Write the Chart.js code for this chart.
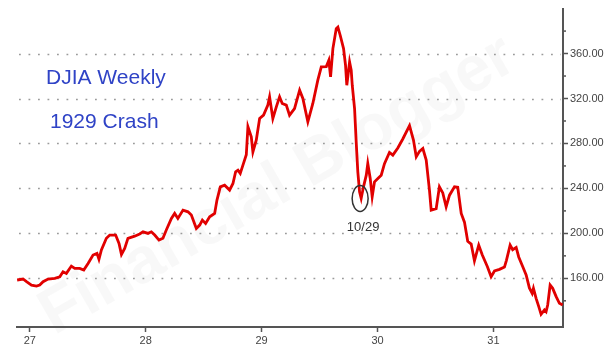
<!DOCTYPE html>
<html>
<head>
<meta charset="utf-8">
<script src="https://cdn.jsdelivr.net/npm/chart.js@4.4.1/dist/chart.umd.min.js"></script>
<style>
  html, body { margin: 0; padding: 0; background: #ffffff; }
  #wrap { width: 614px; height: 357px; position: relative; }
</style>
</head>
<body>
<div id="wrap"><canvas id="c" width="614" height="357"></canvas></div>
<script>
// ---- data ----
const xTicks = [27, 28, 29, 30, 31];
const yTicks = [160, 200, 240, 280, 320, 360];
const yMinorTicks = [140, 180, 220, 260, 300, 340, 380];

// time position in years (27 = start of 1927) and weekly DJIA close
const weekYear = [
  26.891, 26.942, 26.972, 27.015, 27.058, 27.086, 27.115, 27.158, 27.216, 27.259,
  27.287, 27.316, 27.359, 27.388, 27.431, 27.466, 27.503, 27.546, 27.580, 27.597,
  27.618, 27.661, 27.690, 27.741, 27.770, 27.791, 27.819, 27.847, 27.905, 27.948,
  27.977, 28.020, 28.049, 28.078, 28.115, 28.149, 28.178, 28.222, 28.250, 28.278,
  28.322, 28.365, 28.394, 28.437, 28.466, 28.489, 28.517, 28.552, 28.595, 28.615,
  28.644, 28.681, 28.724, 28.753, 28.776, 28.796, 28.816, 28.839, 28.868, 28.882,
  28.911, 28.925, 28.954, 28.983, 29.017, 29.054, 29.069, 29.097, 29.127, 29.155,
  29.178, 29.213, 29.241, 29.284, 29.328, 29.356, 29.399, 29.442, 29.485, 29.515,
  29.558, 29.580, 29.595, 29.615, 29.644, 29.658, 29.678, 29.707, 29.724, 29.735,
  29.759, 29.773, 29.782, 29.802, 29.816, 29.830, 29.845, 29.859, 29.879, 29.903,
  29.916, 29.937, 29.954, 29.974, 30.003, 30.032, 30.060, 30.103, 30.132, 30.175,
  30.218, 30.276, 30.310, 30.334, 30.362, 30.391, 30.420, 30.448, 30.463, 30.506,
  30.534, 30.563, 30.592, 30.621, 30.664, 30.692, 30.722, 30.750, 30.778, 30.808,
  30.836, 30.873, 30.903, 30.948, 30.980, 31.009, 31.052, 31.095, 31.112, 31.144,
  31.166, 31.196, 31.218, 31.253, 31.282, 31.310, 31.334, 31.345, 31.368, 31.391,
  31.411, 31.440, 31.454, 31.468, 31.489, 31.511, 31.541, 31.569, 31.597
];
const djia = [
  158.5, 159.4, 157.0, 154.0, 153.1, 154.0, 157.0, 159.4, 160.0, 161.4,
  165.9, 164.4, 170.9, 168.9, 168.9, 167.4, 173.3, 180.7, 182.2, 176.9,
  185.2, 195.6, 198.5, 198.5, 191.1, 181.3, 186.7, 195.6, 197.5, 199.5,
  201.4, 200.0, 201.4, 198.5, 194.0, 195.6, 203.0, 213.3, 217.8, 213.3,
  220.7, 219.2, 216.3, 204.4, 207.4, 211.8, 208.9, 214.8, 217.8, 229.6,
  241.4, 242.9, 238.5, 244.4, 254.8, 256.3, 253.3, 260.7, 270.0, 295.0,
  285.9, 272.5, 282.9, 302.2, 305.2, 314.1, 321.5, 302.2, 312.6, 321.5,
  315.6, 314.1, 305.2, 311.1, 327.4, 320.0, 299.2, 315.6, 336.3, 348.1,
  348.4, 354.0, 339.3, 364.4, 382.2, 383.6, 376.3, 364.4, 349.6, 331.8,
  352.5, 345.2, 331.8, 311.1, 281.4, 254.8, 237.0, 231.1, 241.4, 251.8,
  262.2, 248.9, 232.6, 245.9, 248.9, 251.8, 262.0, 272.0, 269.6, 276.0,
  284.0, 295.8, 283.0, 268.1, 273.0, 275.5, 265.2, 238.5, 220.7, 222.0,
  241.4, 236.0, 223.7, 234.0, 241.4, 241.0, 217.8, 210.0, 193.0, 190.5,
  175.5, 189.6, 181.0, 170.3, 161.4, 166.5, 168.0, 170.0, 176.0, 189.6,
  185.5, 187.5, 179.0, 170.3, 163.0, 151.5, 146.7, 151.1, 142.2, 134.8,
  128.0, 131.9, 130.4, 136.3, 154.0, 151.1, 143.7, 137.8, 136.3
];

const crashMark = { x: 29.85, y: 231, label: '10/29' };
const titleLines = ['DJIA Weekly', '1929 Crash'];
const watermark = 'Financial Blogger';

// ---- build ----
const points = weekYear.map((t, i) => ({ x: t, y: djia[i] }));

const decorPlugin = {
  id: 'decor',
  beforeDraw(chart) {
    const ctx = chart.ctx;
    ctx.save();
    ctx.fillStyle = '#ffffff';
    ctx.fillRect(0, 0, chart.width, chart.height);
    // faint watermark
    ctx.translate(278, 186);
    ctx.rotate(-30 * Math.PI / 180);
    ctx.font = 'bold 64px "Liberation Sans", Arial, sans-serif';
    ctx.textAlign = 'center';
    ctx.textBaseline = 'middle';
    ctx.fillStyle = 'rgba(215,215,215,0.18)';
    ctx.fillText(watermark, 0, 0);
    ctx.restore();
  },
  beforeDatasetsDraw(chart) {
    const ctx = chart.ctx;
    const ys = chart.scales.y;
    const a = chart.chartArea;
    ctx.save();
    // dotted gridlines
    ctx.strokeStyle = '#9a9a9a';
    ctx.lineWidth = 1.6;
    ctx.setLineDash([1.8, 7.7]);
    yTicks.forEach(v => {
      const y = Math.round(ys.getPixelForValue(v)) + 0.5;
      ctx.beginPath();
      ctx.moveTo(a.left + 2, y);
      ctx.lineTo(a.right - 2, y);
      ctx.stroke();
    });
    ctx.setLineDash([]);
    // minor ticks on right axis
    ctx.strokeStyle = '#555';
    ctx.lineWidth = 1.5;
    yMinorTicks.forEach(v => {
      const y = ys.getPixelForValue(v);
      ctx.beginPath();
      ctx.moveTo(a.right, y);
      ctx.lineTo(a.right + 3, y);
      ctx.stroke();
    });
    // titles
    ctx.fillStyle = '#2f43c6';
    ctx.font = '21px "Liberation Sans", Arial, sans-serif';
    ctx.textAlign = 'left';
    ctx.textBaseline = 'alphabetic';
    ctx.fillText(titleLines[0], 46, 83.5);
    ctx.fillText(titleLines[1], 50, 127.5);
    ctx.restore();
  },
  afterDatasetsDraw(chart) {
    const ctx = chart.ctx;
    const cx = chart.scales.x.getPixelForValue(crashMark.x);
    const cy = chart.scales.y.getPixelForValue(crashMark.y);
    ctx.save();
    ctx.strokeStyle = '#333';
    ctx.lineWidth = 1.5;
    ctx.beginPath();
    ctx.ellipse(cx, cy, 8, 13, 0, 0, Math.PI * 2);
    ctx.stroke();
    ctx.fillStyle = '#333';
    ctx.font = '13px "Liberation Sans", Arial, sans-serif';
    ctx.textAlign = 'center';
    ctx.textBaseline = 'alphabetic';
    ctx.fillText(crashMark.label, cx + 3, cy + 32);
    ctx.restore();
  }
};

new Chart(document.getElementById('c'), {
  type: 'line',
  data: {
    datasets: [{
      data: points,
      borderColor: '#e10000',
      borderWidth: 2.8,
      pointRadius: 0,
      tension: 0,
      fill: false
    }]
  },
  options: {
    responsive: false,
    animation: false,
    layout: { padding: { left: 17, top: 8, right: 0, bottom: 0 } },
    plugins: { legend: { display: false }, tooltip: { enabled: false }, title: { display: false } },
    scales: {
      x: {
        type: 'linear',
        min: 26.89,
        max: 31.6,
        afterBuildTicks: s => { s.ticks = xTicks.map(v => ({ value: v })); },
        afterFit: s => { s.height = 30; },
        grid: { display: true, drawOnChartArea: false, drawTicks: true, tickLength: 5, tickColor: '#555', tickWidth: 1.5 },
        border: { display: true, color: '#555', width: 2 },
        ticks: {
          padding: 2,
          color: '#444',
          font: { family: '"Liberation Sans", Arial, sans-serif', size: 11 },
          maxRotation: 0,
          callback: v => String(v)
        }
      },
      y: {
        type: 'linear',
        position: 'right',
        min: 116.7,
        max: 400,
        afterBuildTicks: s => { s.ticks = yTicks.map(v => ({ value: v })); },
        afterFit: s => { s.width = 51; },
        grid: { display: true, drawOnChartArea: false, drawTicks: true, tickLength: 5, tickColor: '#555', tickWidth: 1.5 },
        border: { display: true, color: '#555', width: 2 },
        ticks: {
          padding: 2,
          color: '#444',
          font: { family: '"Liberation Sans", Arial, sans-serif', size: 11 },
          callback: v => Number(v).toFixed(2)
        }
      }
    }
  },
  plugins: [decorPlugin]
});
</script>
</body>
</html>
